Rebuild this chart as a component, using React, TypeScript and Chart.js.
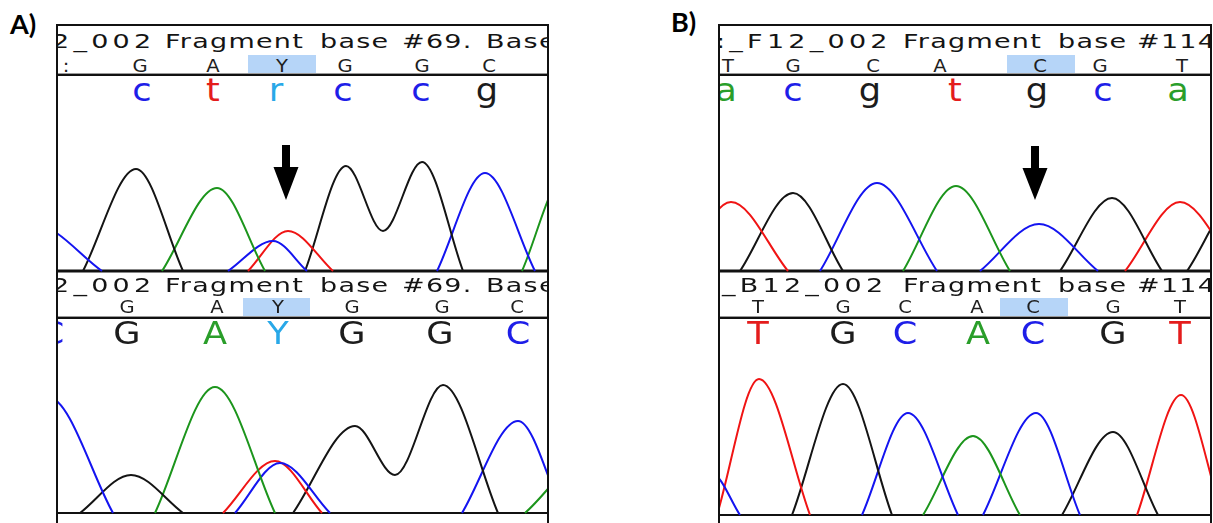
import React, { useEffect, useRef } from "react";
import { Chart, registerables } from "chart.js";

Chart.register(...registerables);

type P = [number, number];

// ---------------- trace data (x: scan position, y: signal height) ----------------
// Panel A – upper trace
const A1_BLUE_1: P[] = [[-10, 0], [35, 46], [102, 0]];
const A1_BLACK_1: P[] = [[83, 0], [136, 102], [183, 0]];
const A1_GREEN_1: P[] = [[162, 0], [217, 83], [265, 0]];
const A1_BLUE_2: P[] = [[228, 0], [273, 30], [307, 0]];
const A1_RED_1: P[] = [[248, 0], [288, 40], [333, 0]];
const A1_BLACK_2: P[] = [[305, 0], [346, 105], [383, 40], [422, 109], [463, 0]];
const A1_BLUE_3: P[] = [[437, 0], [485, 98], [535, 0]];
const A1_GREEN_2: P[] = [[522, 0], [565, 95], [610, 0]];

// Panel A – lower trace
const A2_BLUE_1: P[] = [[-10, 0], [48, 116], [113, 0]];
const A2_BLACK_1: P[] = [[80, 0], [131, 38], [183, 0]];
const A2_GREEN_1: P[] = [[155, 0], [215, 126], [275, 0]];
const A2_RED_1: P[] = [[223, 0], [275, 52], [322, 0]];
const A2_BLUE_2: P[] = [[235, 0], [280, 50], [330, 0]];
const A2_BLACK_2: P[] = [[293, 0], [355, 87], [395, 38], [443, 128], [498, 0]];
const A2_BLUE_3: P[] = [[462, 0], [518, 92], [563, 0]];
const A2_GREEN_2: P[] = [[525, 0], [600, 65], [660, 0]];

// Panel B – upper trace
const B1_RED_1: P[] = [[680, 0], [731, 69], [788, 0]];
const B1_BLACK_1: P[] = [[740, 0], [793, 78], [843, 0]];
const B1_BLUE_1: P[] = [[820, 0], [877, 88], [937, 0]];
const B1_GREEN_1: P[] = [[903, 0], [956, 85], [1010, 0]];
const B1_BLUE_2: P[] = [[980, 0], [1039, 47], [1098, 0]];
const B1_BLACK_2: P[] = [[1060, 0], [1112, 73], [1162, 0]];
const B1_RED_2: P[] = [[1125, 0], [1180, 69], [1238, 0]];
const B1_BLACK_3: P[] = [[1187, 0], [1240, 75], [1290, 0]];

// Panel B – lower trace
const B2_BLUE_1: P[] = [[680, 0], [712, 41], [740, 0]];
const B2_RED_1: P[] = [[717, 0], [759, 136], [810, 0]];
const B2_BLACK_1: P[] = [[792, 0], [843, 131], [892, 0]];
const B2_BLUE_2: P[] = [[862, 0], [908, 102], [958, 0]];
const B2_GREEN_1: P[] = [[923, 0], [973, 79], [1020, 0]];
const B2_BLUE_3: P[] = [[983, 0], [1036, 102], [1080, 0]];
const B2_BLACK_2: P[] = [[1062, 0], [1113, 83], [1158, 0]];
const B2_RED_2: P[] = [[1137, 0], [1181, 120], [1222, 0]];

// ---------------- base calls ----------------
const A1_REF = [":", "G", "A", "Y", "G", "G", "C"];
const A1_REF_X = [66, 140, 213, 282, 345, 422, 489];
const A1_CALLS = ["c", "t", "r", "c", "c", "g"];
const A1_CALLS_X = [142, 213, 276, 343, 421, 487];
const A2_REF = ["G", "A", "Y", "G", "G", "C"];
const A2_REF_X = [127, 217, 278, 352, 442, 517];
const A2_CALLS = ["C", "G", "A", "Y", "G", "G", "C"];
const A2_CALLS_X = [52, 127, 215, 278, 352, 440, 518];

const B1_REF = ["T", "G", "C", "A", "C", "G", "T"];
const B1_REF_X = [728, 793, 873, 940, 1040, 1100, 1182];
const B1_CALLS = ["a", "c", "g", "t", "g", "c", "a"];
const B1_CALLS_X = [726, 793, 870, 955, 1037, 1103, 1178];
const B2_REF = ["T", "G", "C", "A", "C", "G", "T"];
const B2_REF_X = [758, 843, 905, 977, 1033, 1113, 1180];
const B2_CALLS = ["T", "G", "C", "A", "C", "G", "T"];
const B2_CALLS_X = [758, 843, 905, 978, 1033, 1113, 1180];

// header words
const A_HEADER: [string, number][] = [["2_002", 52], ["Fragment", 165], ["base", 320], ["#69.", 402], ["Base", 486]];
const B1_HEADER: [string, number][] = [[":_F12_002", 716], ["Fragment", 903], ["base", 1058], ["#114", 1137]];
const B2_HEADER: [string, number][] = [["_B12_002", 722], ["Fragment", 903], ["base", 1058], ["#114", 1137]];

const CALL_COLOR: Record<string, string> = {
  A: "#2a9e2a", C: "#1e1ee8", G: "#1c1c1c", T: "#e41c1c", Y: "#28a8e8", R: "#28a8e8", ":": "#1e1ee8",
};
const TRACE_COLOR: Record<string, string> = { A: "#1c951c", C: "#1414f0", G: "#141414", T: "#f01414" };

type TraceDef = { base: string; pts: P[] };
type ArrowDef = { x: number; top: number; neck: number; tip: number; shaft: number; head: number };

const A_ARROW: ArrowDef = { x: 286, top: 126, neck: 104, tip: 71, shaft: 8, head: 25 };
const B_ARROW: ArrowDef = { x: 1035, top: 125, neck: 103, tip: 71, shaft: 8, head: 25 };

function Traces(props: {
  ox: number; oy: number; xMin: number; xMax: number; top: number; bottom: number;
  baseline: number; lw: number; traces: TraceDef[]; arrow?: ArrowDef;
}) {
  const { ox, oy, xMin, xMax, top, bottom, baseline, lw, traces, arrow } = props;
  const ref = useRef<HTMLCanvasElement>(null);
  const w = xMax - xMin;
  const h = bottom - top;
  useEffect(() => {
    const arrowPlugin = {
      id: "arrowMark",
      afterDatasetsDraw(chart: any) {
        if (!arrow) return;
        const { ctx } = chart;
        const xs = chart.scales.x;
        const ys = chart.scales.y;
        const cx = xs.getPixelForValue(arrow.x);
        const sl = xs.getPixelForValue(arrow.x - arrow.shaft / 2);
        const sr = xs.getPixelForValue(arrow.x + arrow.shaft / 2);
        const hl = xs.getPixelForValue(arrow.x - arrow.head / 2);
        const hr = xs.getPixelForValue(arrow.x + arrow.head / 2);
        const yt = ys.getPixelForValue(arrow.top);
        const yn = ys.getPixelForValue(arrow.neck);
        const yp = ys.getPixelForValue(arrow.tip);
        ctx.save();
        ctx.fillStyle = "#000";
        ctx.beginPath();
        ctx.moveTo(sl, yt);
        ctx.lineTo(sr, yt);
        ctx.lineTo(sr, yn);
        ctx.lineTo(hr, yn);
        ctx.lineTo(cx, yp);
        ctx.lineTo(hl, yn);
        ctx.lineTo(sl, yn);
        ctx.closePath();
        ctx.fill();
        ctx.restore();
      },
    };
    const datasets: any[] = traces.map((t) => ({
      data: t.pts.map(([x, y]) => ({ x, y })),
      borderColor: TRACE_COLOR[t.base],
      borderWidth: 2,
      pointRadius: 0,
      fill: false,
      cubicInterpolationMode: "monotone",
    }));
    datasets.push({
      data: [{ x: xMin, y: 0 }, { x: xMax, y: 0 }],
      borderColor: "#111",
      borderWidth: lw,
      pointRadius: 0,
      fill: false,
    });
    const chart = new Chart(ref.current as HTMLCanvasElement, {
      type: "line",
      data: { datasets },
      options: {
        responsive: false,
        animation: false,
        devicePixelRatio: 1,
        events: [],
        layout: { padding: 0 },
        scales: {
          x: { type: "linear", min: xMin, max: xMax, display: false },
          y: { type: "linear", min: baseline - bottom, max: baseline - top, display: false },
        },
        plugins: { legend: { display: false }, tooltip: { enabled: false }, title: { display: false } },
      },
      plugins: [arrowPlugin],
    } as any);
    return () => chart.destroy();
  }, []);
  return (
    <canvas
      ref={ref}
      width={w}
      height={h}
      style={{ position: "absolute", left: xMin - ox, top: top - oy, width: w, height: h }}
    />
  );
}

function Txt(props: {
  x: number; base: number; size: number; color: string; text: string; ox: number; oy: number;
  family?: string; asc?: number; weight?: number; center?: boolean; sx?: number; ls?: number;
}) {
  const { x, base, size, color, text, ox, oy } = props;
  const family = props.family ?? "'DejaVu Sans'";
  const asc = props.asc ?? 0.846;
  const center = props.center ?? true;
  const sx = props.sx ?? 1;
  return (
    <div
      style={{
        position: "absolute",
        left: x - ox,
        top: base - asc * size - oy,
        fontFamily: family,
        fontSize: size,
        lineHeight: size + "px",
        fontWeight: props.weight ?? 400,
        color,
        whiteSpace: "pre",
        letterSpacing: props.ls ?? 0,
        transform: center ? `translateX(-50%) scaleX(${sx})` : `scaleX(${sx})`,
        transformOrigin: center ? "50% 0" : "0 0",
      }}
    >
      {text}
    </div>
  );
}

function Box(props: { x1: number; x2: number; y1: number; y2: number; color: string; ox: number; oy: number }) {
  const { x1, x2, y1, y2, color, ox, oy } = props;
  return (
    <div style={{ position: "absolute", left: x1 - ox, top: y1 - oy, width: x2 - x1, height: y2 - y1, background: color }} />
  );
}

function Panel(props: {
  L: number; R: number; xMin: number; xMax: number;
  head1: [string, number][]; head2: [string, number][];
  ref1: string[]; ref1X: number[]; hl1: [number, number];
  calls1: string[]; calls1X: number[];
  ref2: string[]; ref2X: number[]; hl2: [number, number];
  calls2: string[]; calls2X: number[];
  traces1: TraceDef[]; traces2: TraceDef[]; base2: number; arrow: ArrowDef;
}) {
  const p = props;
  const ox = p.L;
  const oy = 26;
  const W = p.R - p.L;
  const header = (words: [string, number][], base: number) =>
    words.map(([t, x], i) => (
      <Txt key={"h" + base + i} x={x} base={base} size={19} color="#141414" text={t} ox={ox} oy={oy}
        center={false} sx={1.42} ls={i === 0 ? 3 : 0.9} />
    ));
  const refRow = (letters: string[], xs: number[], base: number) =>
    letters.map((t, i) => (
      <Txt key={"r" + base + i} x={xs[i]} base={base} size={17} color="#1e1e1e" text={t} ox={ox} oy={oy} sx={1.15} />
    ));
  const callRow = (letters: string[], xs: number[], base: number) =>
    letters.map((t, i) => (
      <Txt key={"c" + base + i} x={xs[i]} base={base} size={32} color={CALL_COLOR[t.toUpperCase()]} text={t}
        ox={ox} oy={oy} sx={1.1} />
    ));
  return (
    <>
      <div
        style={{
          position: "absolute", left: p.L - 2, top: 24, width: W + 4, height: 520,
          borderTop: "2px solid #111", borderLeft: "2px solid #111", borderRight: "2px solid #111",
          boxSizing: "border-box",
        }}
      />
      <div style={{ position: "absolute", left: p.L, top: 26, width: W, height: 497, overflow: "hidden", background: "#fff" }}>
        {/* upper block */}
        {header(p.head1, 48)}
        <Box x1={p.hl1[0]} x2={p.hl1[1]} y1={55} y2={73} color="#b6d5f8" ox={ox} oy={oy} />
        {refRow(p.ref1, p.ref1X, 72)}
        <Box x1={p.L} x2={p.R} y1={73} y2={74} color="#9a9a9a" ox={ox} oy={oy} />
        <Box x1={p.L} x2={p.R} y1={74} y2={76} color="#111" ox={ox} oy={oy} />
        {callRow(p.calls1, p.calls1X, 101)}
        <Traces ox={ox} oy={oy} xMin={p.xMin} xMax={p.xMax} top={106} bottom={275} baseline={271} lw={3}
          traces={p.traces1} arrow={p.arrow} />
        {/* lower block */}
        {header(p.head2, 292)}
        <Box x1={p.hl2[0]} x2={p.hl2[1]} y1={298} y2={316} color="#b6d5f8" ox={ox} oy={oy} />
        {refRow(p.ref2, p.ref2X, 313)}
        <Box x1={p.L} x2={p.R} y1={316} y2={317} color="#9a9a9a" ox={ox} oy={oy} />
        <Box x1={p.L} x2={p.R} y1={317} y2={319} color="#111" ox={ox} oy={oy} />
        {callRow(p.calls2, p.calls2X, 344)}
        <Traces ox={ox} oy={oy} xMin={p.xMin} xMax={p.xMax} top={346} bottom={520} baseline={p.base2} lw={2}
          traces={p.traces2} />
      </div>
    </>
  );
}

export default function App() {
  const a1: TraceDef[] = [
    { base: "C", pts: A1_BLUE_1 }, { base: "G", pts: A1_BLACK_1 }, { base: "A", pts: A1_GREEN_1 },
    { base: "C", pts: A1_BLUE_2 }, { base: "T", pts: A1_RED_1 }, { base: "G", pts: A1_BLACK_2 },
    { base: "C", pts: A1_BLUE_3 }, { base: "A", pts: A1_GREEN_2 },
  ];
  const a2: TraceDef[] = [
    { base: "C", pts: A2_BLUE_1 }, { base: "G", pts: A2_BLACK_1 }, { base: "A", pts: A2_GREEN_1 },
    { base: "C", pts: A2_BLUE_2 }, { base: "T", pts: A2_RED_1 }, { base: "G", pts: A2_BLACK_2 },
    { base: "C", pts: A2_BLUE_3 }, { base: "A", pts: A2_GREEN_2 },
  ];
  const b1: TraceDef[] = [
    { base: "T", pts: B1_RED_1 }, { base: "G", pts: B1_BLACK_1 }, { base: "C", pts: B1_BLUE_1 },
    { base: "A", pts: B1_GREEN_1 }, { base: "C", pts: B1_BLUE_2 }, { base: "G", pts: B1_BLACK_2 },
    { base: "T", pts: B1_RED_2 }, { base: "G", pts: B1_BLACK_3 },
  ];
  const b2: TraceDef[] = [
    { base: "C", pts: B2_BLUE_1 }, { base: "T", pts: B2_RED_1 }, { base: "G", pts: B2_BLACK_1 },
    { base: "C", pts: B2_BLUE_2 }, { base: "A", pts: B2_GREEN_1 }, { base: "C", pts: B2_BLUE_3 },
    { base: "G", pts: B2_BLACK_2 }, { base: "T", pts: B2_RED_2 },
  ];
  return (
    <div style={{ position: "absolute", left: 0, top: 0, width: 1213, height: 523, overflow: "hidden", background: "#fff" }}>
      <Txt x={10} base={34} size={27} color="#000" text="A)" ox={0} oy={0} family="Lato" asc={0.887} weight={700} center={false} />
      <Txt x={671} base={32} size={27} color="#000" text="B)" ox={0} oy={0} family="Lato" asc={0.887} weight={700} center={false} />
      <Panel
        L={58} R={547} xMin={-20} xMax={680}
        head1={A_HEADER} head2={A_HEADER}
        ref1={A1_REF} ref1X={A1_REF_X} hl1={[248, 316]}
        calls1={A1_CALLS} calls1X={A1_CALLS_X}
        ref2={A2_REF} ref2X={A2_REF_X} hl2={[243, 310]}
        calls2={A2_CALLS} calls2X={A2_CALLS_X}
        traces1={a1} traces2={a2} base2={513} arrow={A_ARROW}
      />
      <Panel
        L={720} R={1210} xMin={660} xMax={1320}
        head1={B1_HEADER} head2={B2_HEADER}
        ref1={B1_REF} ref1X={B1_REF_X} hl1={[1007, 1075]}
        calls1={B1_CALLS} calls1X={B1_CALLS_X}
        ref2={B2_REF} ref2X={B2_REF_X} hl2={[1000, 1068]}
        calls2={B2_CALLS} calls2X={B2_CALLS_X}
        traces1={b1} traces2={b2} base2={515} arrow={B_ARROW}
      />
    </div>
  );
}
